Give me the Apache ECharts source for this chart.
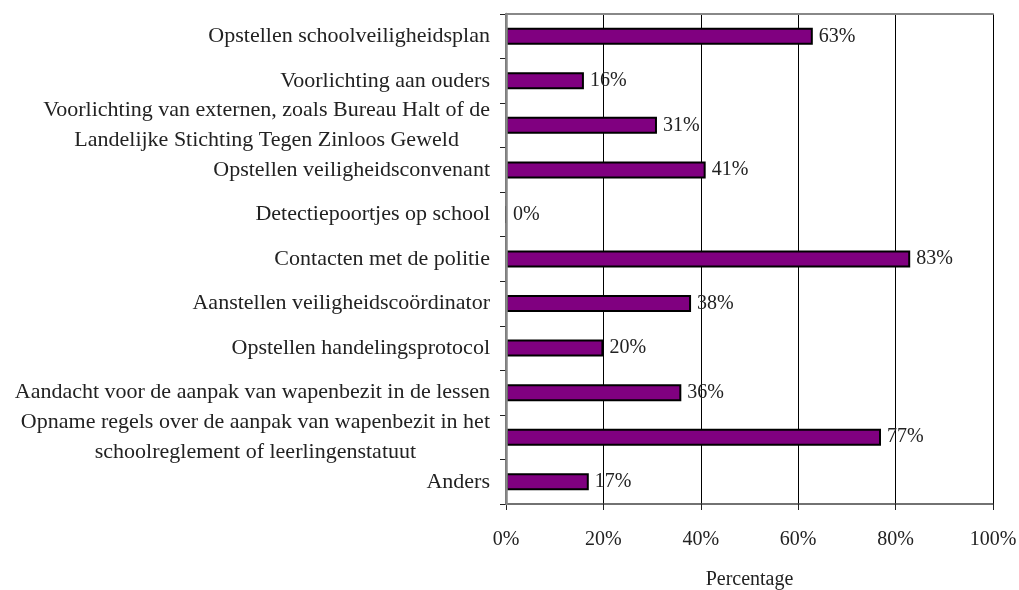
<!DOCTYPE html>
<html><head><meta charset="utf-8">
<script src="https://cdn.jsdelivr.net/npm/echarts@6/dist/echarts.min.js"></script>
<style>html,body{margin:0;padding:0;background:#fff}#c{width:1019px;height:590px}</style>
</head><body><div id="c"></div>
<script>
const categories = [
  "Opstellen schoolveiligheidsplan",
  "Voorlichting aan ouders",
  "Voorlichting van externen, zoals Bureau Halt of de\nLandelijke Stichting Tegen Zinloos Geweld",
  "Opstellen veiligheidsconvenant",
  "Detectiepoortjes op school",
  "Contacten met de politie",
  "Aanstellen veiligheidscoördinator",
  "Opstellen handelingsprotocol",
  "Aandacht voor de aanpak van wapenbezit in de lessen",
  "Opname regels over de aanpak van wapenbezit in het\nschoolreglement of leerlingenstatuut",
  "Anders"
];
const values = [63, 16, 31, 41, 0, 83, 38, 20, 36, 77, 17];
const xTicks = [0, 20, 40, 60, 80, 100];
const axisTitle = "Percentage";

const FONT = "'Liberation Serif', 'DejaVu Serif', serif";
const FS = 22;
const chart = echarts.init(document.getElementById('c'));
chart.setOption({
  backgroundColor: '#fff',
  animation: false,
  grid: { left: 506, right: 26, top: 14, bottom: 86, containLabel: false, outerBoundsMode: 'none' },
  xAxis: [{
    type: 'value', min: xTicks[0], max: xTicks[xTicks.length - 1], interval: 20,
    position: 'bottom',
    axisLine: { show: true, lineStyle: { color: '#444', width: 1.5 } },
    axisTick: { show: true, length: 6, lineStyle: { color: '#222' } },
    axisLabel: { formatter: '{value}%', fontFamily: FONT, fontSize: 20, color: '#222', margin: 26 },
    splitLine: { show: true, lineStyle: { color: '#000', width: 1 } },
    name: axisTitle, nameLocation: 'middle', nameGap: 66,
    nameTextStyle: { fontFamily: FONT, fontSize: 20, color: '#222' }
  }, {
    type: 'value', min: 0, max: 100, position: 'top', z: 5,
    axisLine: { show: true, lineStyle: { color: '#888', width: 2 } },
    axisTick: { show: false }, axisLabel: { show: false }, splitLine: { show: false }
  }],
  yAxis: [{
    type: 'category', data: categories, inverse: true,
    axisLine: { show: true, lineStyle: { color: '#222', width: 1.5 } },
    axisTick: { show: true, length: 6, lineStyle: { color: '#222' } },
    axisLabel: {
      interval: 0,
      fontFamily: FONT, fontSize: FS, color: '#222', margin: 16, lineHeight: 30,
      formatter: function (v) { return v.split('\n').map(s => '{c|' + s + '}').join('\n'); },
      rich: { c: { align: 'center', fontFamily: FONT, fontSize: FS, color: '#222', lineHeight: 30 } }
    },
    splitLine: { show: false }
  }, {
    type: 'category', data: categories, inverse: true, position: 'right', z: 5,
    axisLine: { show: true, lineStyle: { color: '#888', width: 2.5 } },
    axisTick: { show: false }, axisLabel: { show: false }, splitLine: { show: false }
  }],
  series: [{
    type: 'bar', data: values, xAxisIndex: 0, yAxisIndex: 0,
    barWidth: 17,
    itemStyle: { color: '#800080', borderColor: '#000', borderWidth: 2 },
    label: { show: true, position: 'right', distance: 6, formatter: '{c}%',
      fontFamily: FONT, fontSize: 20, color: '#222' }
  }]
});
</script></body></html>
